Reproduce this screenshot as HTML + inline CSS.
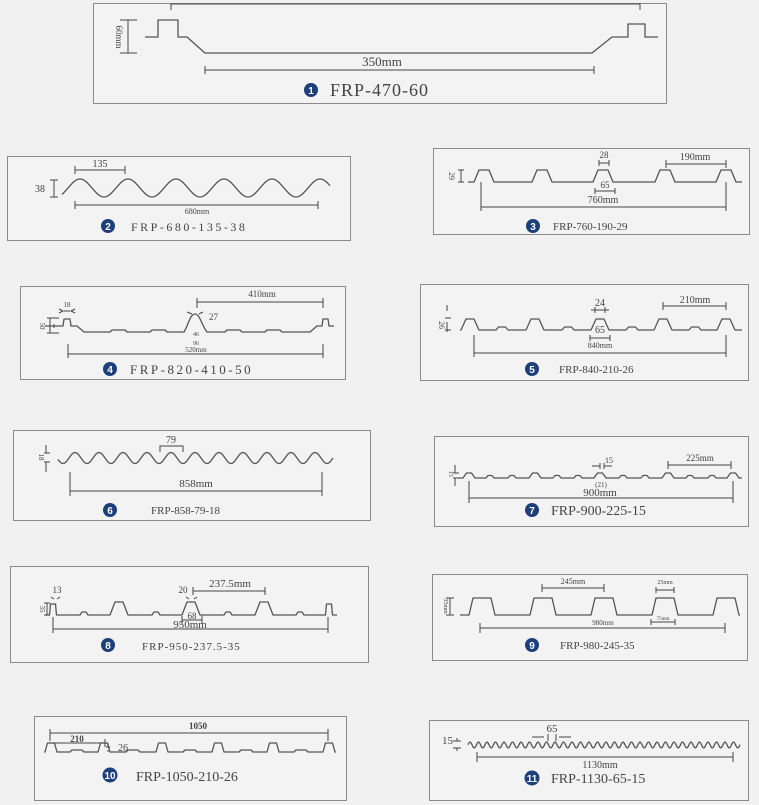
<!DOCTYPE html>
<html><head><meta charset="utf-8"><style>
html,body{margin:0;padding:0;background:#f1f1f1;}
svg{display:block;}
text{font-family:"Liberation Serif",serif;fill:#444;}
.p{fill:none;stroke:#555;stroke-width:1.3;stroke-linejoin:round;}
.d{fill:none;stroke:#444;stroke-width:1;}
.box{fill:#f3f3f3;stroke:#8a8a8a;stroke-width:1;}
.c{fill:#1d3f7c;}
.n{fill:#fff;font-family:"Liberation Sans",sans-serif;font-size:10px;font-weight:bold;}
</style></head><body>
<svg id="s" width="759" height="805" viewBox="0 0 759 805" xmlns="http://www.w3.org/2000/svg">
<rect x="0" y="0" width="759" height="805" fill="#f1f1f1"/>
<!-- boxes -->
<rect class="box" x="93.5" y="3.5" width="573" height="100"/>
<rect class="box" x="7.5" y="156.5" width="343" height="84"/>
<rect class="box" x="433.5" y="148.5" width="316" height="86"/>
<rect class="box" x="20.5" y="286.5" width="325" height="93"/>
<rect class="box" x="420.5" y="284.5" width="328" height="96"/>
<rect class="box" x="13.5" y="430.5" width="357" height="90"/>
<rect class="box" x="434.5" y="436.5" width="314" height="90"/>
<rect class="box" x="10.5" y="566.5" width="358" height="96"/>
<rect class="box" x="432.5" y="574.5" width="315" height="86"/>
<rect class="box" x="34.5" y="716.5" width="312" height="84"/>
<rect class="box" x="429.5" y="720.5" width="319" height="80"/>

<g id="profiles"></g>

<!-- Panel 1 -->
<polyline class="p" points="145,37 158,37 158,20 178,20 178,37 187,37 205,53 592,53 612,37 628,37 628,24 645,24 645,37 658,37"/>
<polyline class="d" points="171,10 171,4 640,4 640,10"/>
<path class="d" d="M120,20h17M120,53h17M128,20v33"/>
<text x="116" y="37" font-size="9" transform="rotate(90 116 37)" text-anchor="middle">60mm</text>
<path class="d" d="M205,70h389M205,66v8M594,66v8"/>
<text x="382" y="66" font-size="13" text-anchor="middle">350mm</text>
<circle class="c" cx="311" cy="90" r="7"/><text class="n" x="311" y="94" text-anchor="middle">1</text>
<text x="330" y="96" font-size="18" letter-spacing="1">FRP-470-60</text>

<!-- Panel 2 -->
<path class="d" d="M75,170h50M75,166v8M125,166v8"/>
<text x="100" y="167" font-size="10" text-anchor="middle">135</text>
<path class="d" d="M50,180h8M50,197h8M54,180v17"/>
<text x="45" y="192" font-size="10" text-anchor="end">38</text>
<path class="d" d="M75,205h243M75,201v8M318,201v8"/>
<text x="197" y="214" font-size="8" text-anchor="middle">680mm</text>
<circle class="c" cx="108" cy="226" r="7"/><text class="n" x="108" y="230" text-anchor="middle">2</text>
<text x="131" y="231" font-size="12" letter-spacing="2.5">FRP-680-135-38</text>

<!-- Panel 3 -->
<path class="d" d="M458,170h6M458,182h6M461,170v12"/>
<text x="449" y="176" font-size="8" transform="rotate(90 449 176)" text-anchor="middle">29</text>
<text x="604" y="158" font-size="9" text-anchor="middle">28</text>
<path class="d" d="M599,163h10M599,160v6M609,160v6"/>
<path class="d" d="M595,191h20M595,188v6M615,188v6"/>
<text x="605" y="188" font-size="9" text-anchor="middle">65</text>
<path class="d" d="M666,164h60M666,160v8M726,160v8"/>
<text x="695" y="160" font-size="10" text-anchor="middle">190mm</text>
<path class="d" d="M481,207h245M481,182v29M726,182v29"/>
<text x="603" y="203" font-size="10" text-anchor="middle">760mm</text>
<circle class="c" cx="533" cy="226" r="7"/><text class="n" x="533" y="230" text-anchor="middle">3</text>
<text x="553" y="230" font-size="11">FRP-760-190-29</text>

<!-- Panel 4 -->
<path class="d" d="M64,311h6M59,309l4,2l-4,2M75,309l-4,2l4,2"/>
<text x="67" y="307" font-size="7" text-anchor="middle">18</text>
<path class="d" d="M47,318h12M47,333h12M50,318v15M54,324v4"/>
<text x="40" y="326" font-size="7" transform="rotate(90 40 326)" text-anchor="middle">50</text>
<path class="d" d="M197,302h126M197,298v10M323,298v10"/>
<text x="262" y="297" font-size="9" text-anchor="middle">410mm</text>
<path class="d" d="M187,312l5,2M203,312l-4,2"/>
<text x="209" y="320" font-size="9">27</text>
<text x="196" y="336" font-size="6" text-anchor="middle">46</text>
<text x="196" y="345" font-size="6" text-anchor="middle">96</text>
<path class="d" d="M68,354h255M68,344v14M323,344v14"/>
<text x="196" y="352" font-size="7" text-anchor="middle">520mm</text>
<circle class="c" cx="110" cy="369" r="7"/><text class="n" x="110" y="373" text-anchor="middle">4</text>
<text x="130" y="374" font-size="13" letter-spacing="2.5">FRP-820-410-50</text>

<!-- Panel 5 -->
<path class="d" d="M447,305v6M447,322v10M445,318h6M445,330h6"/>
<text x="439" y="325" font-size="8" transform="rotate(90 439 325)" text-anchor="middle">26</text>
<text x="600" y="306" font-size="10" text-anchor="middle">24</text>
<path class="d" d="M591,310h18M595,307v6M605,307v6"/>
<path class="d" d="M590,338h20M590,335v6M610,335v6"/>
<text x="600" y="333" font-size="10" text-anchor="middle">65</text>
<path class="d" d="M663,306h63M663,302v8M726,302v8"/>
<text x="695" y="303" font-size="10" text-anchor="middle">210mm</text>
<path class="d" d="M474,353h252M474,335v22M726,335v22"/>
<text x="600" y="348" font-size="8" text-anchor="middle">840mm</text>
<circle class="c" cx="532" cy="369" r="7"/><text class="n" x="532" y="373" text-anchor="middle">5</text>
<text x="559" y="373" font-size="11">FRP-840-210-26</text>

<!-- Panel 6 -->
<path class="d" d="M160,452v-6h23v6"/>
<text x="171" y="443" font-size="10" text-anchor="middle">79</text>
<path class="d" d="M46,445v8M46,462v10M44,453h6M44,462h6"/>
<text x="39" y="457" font-size="7" transform="rotate(90 39 457)" text-anchor="middle">18</text>
<path class="d" d="M70,491h252M70,472v24M322,472v24"/>
<text x="196" y="487" font-size="11" text-anchor="middle">858mm</text>
<circle class="c" cx="110" cy="510" r="7"/><text class="n" x="110" y="514" text-anchor="middle">6</text>
<text x="151" y="514" font-size="11">FRP-858-79-18</text>

<!-- Panel 7 -->
<path class="d" d="M455,465v8M455,478v8M453,473h6M453,478h6"/>
<text x="449" y="474" font-size="6" transform="rotate(90 449 474)" text-anchor="middle">15</text>
<text x="609" y="463" font-size="8" text-anchor="middle">15</text>
<path class="d" d="M592,466h8M604,466h8M600,463v6M604,463v6"/>
<text x="601" y="487" font-size="7" text-anchor="middle">(21)</text>
<path class="d" d="M668,465h63M668,461v8M731,461v8"/>
<text x="700" y="461" font-size="9" text-anchor="middle">225mm</text>
<path class="d" d="M469,498h264M469,481v22M733,481v22"/>
<text x="600" y="496" font-size="11" text-anchor="middle">900mm</text>
<circle class="c" cx="532" cy="510" r="7"/><text class="n" x="532" y="514" text-anchor="middle">7</text>
<text x="551" y="515" font-size="14">FRP-900-225-15</text>

<!-- Panel 8 -->
<text x="57" y="593" font-size="9" text-anchor="middle">13</text>
<path class="d" d="M51,597l3,2M60,597l-3,2"/>
<path class="d" d="M44,603h6M44,615h6M47,603v12"/>
<text x="40" y="609" font-size="7" transform="rotate(90 40 609)" text-anchor="middle">35</text>
<text x="183" y="593" font-size="9" text-anchor="middle">20</text>
<path class="d" d="M193,591h72M193,587v8M265,587v8M186,597l3,2M197,597l-3,2"/>
<text x="230" y="587" font-size="11" text-anchor="middle">237.5mm</text>
<path class="d" d="M182,620h20M182,616v8M202,616v8"/>
<text x="192" y="619" font-size="9" text-anchor="middle">68</text>
<path class="d" d="M53,629h275M53,617v16M328,617v16"/>
<text x="190" y="628" font-size="11" text-anchor="middle">950mm</text>
<circle class="c" cx="108" cy="645" r="7"/><text class="n" x="108" y="649" text-anchor="middle">8</text>
<text x="142" y="650" font-size="11" letter-spacing="1">FRP-950-237.5-35</text>

<!-- Panel 9 -->
<path class="d" d="M446,598h8M446,615h8M450,598v17"/>
<text x="444" y="606" font-size="6" transform="rotate(90 444 606)" text-anchor="middle">35mm</text>
<path class="d" d="M542,588h62M542,584v8M604,584v8"/>
<text x="573" y="584" font-size="8" text-anchor="middle">245mm</text>
<path class="d" d="M656,590h18M656,587v6M674,587v6"/>
<text x="665" y="584" font-size="6" text-anchor="middle">25mm</text>
<path class="d" d="M651,622h24M651,619v6M675,619v6"/>
<text x="663" y="620" font-size="5" text-anchor="middle">75mm</text>
<path class="d" d="M480,628h245M480,623v10M725,623v10"/>
<text x="603" y="625" font-size="7" text-anchor="middle">980mm</text>
<circle class="c" cx="532" cy="645" r="7"/><text class="n" x="532" y="649" text-anchor="middle">9</text>
<text x="560" y="649" font-size="11">FRP-980-245-35</text>

<!-- Panel 10 -->
<path class="d" d="M50,733h278M50,729v12M328,729v12"/>
<text x="198" y="729" font-size="9" font-weight="bold" text-anchor="middle">1050</text>
<path class="d" d="M50,743h55M105,739v8"/>
<text x="77" y="742" font-size="9" font-weight="bold" text-anchor="middle">210</text>
<path class="d" d="M108,743v4M108,750v2M106,747h4"/>
<text x="118" y="751" font-size="10">26</text>
<circle class="c" cx="110" cy="775" r="7.5"/><text class="n" x="110" y="779" text-anchor="middle" font-size="9">10</text>
<text x="136" y="781" font-size="14">FRP-1050-210-26</text>

<!-- Panel 11 -->
<path class="d" d="M457,738v3M457,748v3M453,741h8M453,748h8"/>
<text x="442" y="744" font-size="11">15</text>
<path class="d" d="M532,737h12M548,734v7M556,734v7M559,737h12"/>
<text x="552" y="732" font-size="11" text-anchor="middle">65</text>
<path class="d" d="M477,757h256M477,752v10M733,752v10"/>
<text x="600" y="768" font-size="10" text-anchor="middle">1130mm</text>
<circle class="c" cx="532" cy="778" r="7.5"/><text class="n" x="532" y="782" text-anchor="middle" font-size="9">11</text>
<text x="551" y="783" font-size="14">FRP-1130-65-15</text>
</svg>
<script>
var NS="http://www.w3.org/2000/svg",g=document.getElementById("profiles");
function add(d){var p=document.createElementNS(NS,"path");p.setAttribute("d",d);p.setAttribute("class","p");g.appendChild(p);}
function wave(x0,x1,ym,a,per,ph){var d="";for(var x=x0;x<=x1;x+=1){var y=ym-a*Math.cos((x-ph)*2*Math.PI/per);d+=(d?"L":"M")+x.toFixed(1)+","+y.toFixed(1);}add(d);}
function trap(x0,x1,base,ribs){ribs.sort(function(a,b){return a[0]-b[0]});var d="M"+x0+","+base;ribs.forEach(function(r){var c=r[0],bw=r[1],tw=r[2],h=r[3];d+="L"+(c-bw/2)+","+base+"L"+(c-tw/2)+","+(base-h)+"L"+(c+tw/2)+","+(base-h)+"L"+(c+bw/2)+","+base;});d+="L"+x1+","+base;add(d);}
// 2
wave(62,330,188,9,48,80);
// 3
trap(468,742,182,[[484,20,10,12],[542,20,10,12],[603,20,10,12],[665,20,10,12],[726,20,10,12]]);
// 4
add("M45,326L63,326L64,319L70,319L71,326L77,326L84,332L110,332L112,330L125,330L127,332L150,332L152,330L165,330L167,332L184,332C188,326 190,314 195,314C200,314 202,326 207,332L225,332L227,330L240,330L242,332L265,332L267,330L280,330L282,332L310,332L317,326L322,326L323,319L328,319L329,326L334,326");
// 5
trap(460,742,330,[[470,18,8,11],[535,18,8,11],[600,18,8,11],[663,18,8,11],[726,18,8,11],[502,12,7,3],[568,12,7,3],[632,12,7,3],[695,12,7,3]]);
// 6
wave(58,333,458,5.5,24,75);
// 7
var r7=[];[469,535,600,668,733].forEach(function(c){r7.push([c,12,5,5])});[490,512,557,578,623,645,690,712].forEach(function(c){r7.push([c,8,4,2.5])});
trap(458,742,478,r7);
// 8
trap(45,337,615,[[53,7,5,11],[329,7,5,11],[119,18,8,13],[191,18,8,13],[264,18,8,13],[84,8,4,3],[156,8,4,3],[228,8,4,3],[300,8,4,3]]);
// 9
trap(460,740,615,[[482,26,18,17],[543,26,18,17],[604,26,18,17],[665,26,18,17],[726,26,18,17]]);
// 10
var r10=[];[51,104,162,218,273,329].forEach(function(c){r10.push([c,12,7,9])});[77,133,190,246,301].forEach(function(c){r10.push([c,14,10,2])});
trap(44,336,752,r10);
// 11
wave(468,740,745,3,8.5,470);
</script>
</body></html>
